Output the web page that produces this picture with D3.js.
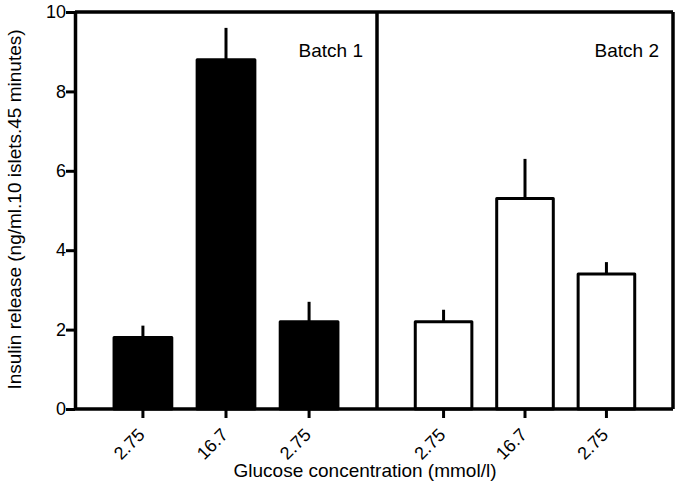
<!DOCTYPE html>
<html>
<head>
<meta charset="utf-8">
<script src="https://cdn.jsdelivr.net/npm/d3@7"></script>
<style>
  body { margin: 0; background: #fff; }
  text { font-family: "Liberation Sans", Arial, sans-serif; fill: #000; }
</style>
</head>
<body>
<div class="chart"></div>
<script>
var svgWidth = 679;
var svgHeight = 493;

var margin = { top: 12, right: 6, bottom: 84, left: 75 };

var width = svgWidth - margin.left - margin.right;
var height = svgHeight - margin.top - margin.bottom;

// data
var batchNames = ["Batch 1", "Batch 2"];
var glucoseLabels = ["2.75", "16.7", "2.75"];
var batch1Means = [1.8, 8.8, 2.2];
var batch1Errors = [0.3, 0.8, 0.5];
var batch2Means = [2.2, 5.3, 3.4];
var batch2Errors = [0.3, 1.0, 0.3];
var yTicks = [0, 2, 4, 6, 8, 10];

var svg = d3.select(".chart")
  .append("svg")
  .attr("width", svgWidth)
  .attr("height", svgHeight);

var chartGroup = svg.append("g")
  .attr("transform", `translate(${margin.left}, ${margin.top})`);

var yScale = d3.scaleLinear().domain([0, 10]).range([height, 0]);

// each batch gets its own panel
var divider = 302;
var panels = [
  { name: batchNames[0], means: batch1Means, errors: batch1Errors, range: [0, divider], fill: "#000" },
  { name: batchNames[1], means: batch2Means, errors: batch2Errors, range: [divider, width], fill: "#fff" }
];

panels.forEach(function(p) {
  p.x = d3.scaleBand()
    .domain(d3.range(p.means.length))
    .range(p.range)
    .paddingInner(0.305)
    .paddingOuter(0.47);
});

var axisStroke = 3.5;

// frame: top, right and divider lines
chartGroup.append("line")
  .attr("x1", 0).attr("x2", width)
  .attr("y1", yScale(10)).attr("y2", yScale(10))
  .attr("stroke", "#000").attr("stroke-width", axisStroke);
chartGroup.append("line")
  .attr("x1", width).attr("x2", width)
  .attr("y1", yScale(10)).attr("y2", yScale(0))
  .attr("stroke", "#000").attr("stroke-width", axisStroke);
chartGroup.append("line")
  .attr("x1", divider).attr("x2", divider)
  .attr("y1", yScale(10)).attr("y2", yScale(0))
  .attr("stroke", "#000").attr("stroke-width", axisStroke);

panels.forEach(function(p) {
  var g = chartGroup.append("g");
  var idx = d3.range(p.means.length);

  // error bars (upper only)
  g.selectAll(".err")
    .data(idx)
    .enter()
    .append("line")
    .attr("x1", i => p.x(i) + p.x.bandwidth() / 2)
    .attr("x2", i => p.x(i) + p.x.bandwidth() / 2)
    .attr("y1", i => yScale(p.means[i]))
    .attr("y2", i => yScale(p.means[i] + p.errors[i]))
    .attr("stroke", "#000")
    .attr("stroke-width", 3);

  g.selectAll("rect")
    .data(idx)
    .enter()
    .append("rect")
    .attr("x", i => p.x(i))
    .attr("y", i => yScale(p.means[i]))
    .attr("width", p.x.bandwidth())
    .attr("height", i => height - yScale(p.means[i]))
    .attr("fill", p.fill)
    .attr("stroke", "#000")
    .attr("stroke-width", 3)
    .attr("stroke-linejoin", "round");

  // x axis for this panel
  var ax = chartGroup.append("g")
    .attr("transform", `translate(0,${height})`)
    .call(d3.axisBottom(p.x).tickSize(9).tickSizeOuter(0).tickFormat(i => glucoseLabels[i]));
  ax.select(".domain").remove();
  ax.selectAll(".tick line").attr("stroke-width", 3);
  ax.selectAll(".tick text")
    .attr("font-size", 18)
    .attr("text-anchor", "end")
    .attr("dy", null)
    .attr("y", 0)
    .attr("transform", "translate(3,27) rotate(-45)");

  // batch label
  chartGroup.append("text")
    .attr("x", p.range[1] - 14)
    .attr("y", 57 - margin.top)
    .attr("text-anchor", "end")
    .attr("font-size", 19)
    .text(p.name);
});

// x baseline
chartGroup.append("line")
  .attr("x1", 0).attr("x2", width)
  .attr("y1", height).attr("y2", height)
  .attr("stroke", "#000").attr("stroke-width", axisStroke);

// y axis
var yAxis = chartGroup.append("g")
  .call(d3.axisLeft(yScale).tickValues(yTicks).tickSize(9).tickSizeOuter(0));
yAxis.select(".domain").attr("stroke-width", axisStroke);
yAxis.selectAll(".tick line").attr("stroke-width", 3);
yAxis.selectAll(".tick text").attr("font-size", 18).attr("x", -9);

// axis titles
chartGroup.append("text")
  .attr("transform", "rotate(-90)")
  .attr("x", -(height / 2) + 1)
  .attr("y", -margin.left + 21)
  .attr("text-anchor", "middle")
  .attr("font-size", 19)
  .text("Insulin release (ng/ml.10 islets.45 minutes)");

chartGroup.append("text")
  .attr("x", 365 - margin.left)
  .attr("y", height + 68)
  .attr("text-anchor", "middle")
  .attr("font-size", 19)
  .text("Glucose concentration (mmol/l)");
</script>
</body>
</html>
